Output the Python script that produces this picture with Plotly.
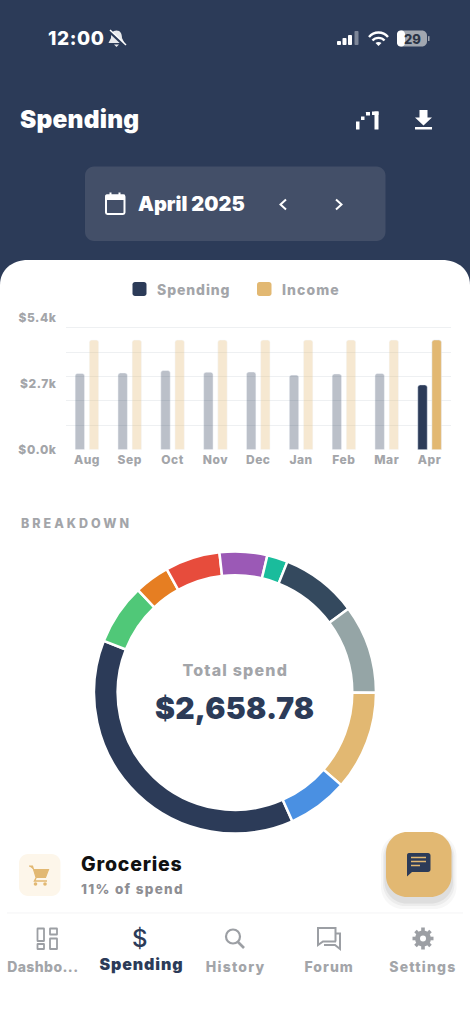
import re
import plotly.graph_objects as go

W, H = 470, 1024

NAVY = '#2c3b58'
GOLD = '#e2b872'
GREY = '#a3a5a9'
FONT = 'Inter'

# Bar chart data (in $k)
months = ['Aug', 'Sep', 'Oct', 'Nov', 'Dec', 'Jan', 'Feb', 'Mar', 'Apr']
spending = [3.13, 3.15, 3.25, 3.18, 3.19, 3.06, 3.11, 3.13, 2.66]
income = [4.5, 4.5, 4.5, 4.5, 4.5, 4.5, 4.5, 4.5, 4.5]
bar_opacity = [0.32, 0.32, 0.32, 0.32, 0.32, 0.32, 0.32, 0.32, 1]
y_ticks = [0, 2.7, 5.4]
y_ticklabels = ['$0.0k', '$2.7k', '$5.4k']
y_grid = [1, 2, 3, 4, 5]

# Breakdown donut data, clockwise from the big navy slice
categories = ['Housing', 'Transport', 'Fuel', 'Dining', 'Shopping', 'Health',
              'Utilities', 'Insurance', 'Groceries', 'Travel']
amounts = [1000.78, 185, 107, 167, 145, 63, 234, 270, 303, 184]
slice_colors = [NAVY, '#50c878', '#e67e22', '#e74c3c', '#9b59b6', '#1abc9c',
                '#34495e', '#95a5a6', GOLD, '#4a90e2']


# px helpers, the page is laid out from screenshot pixels
def fx(x):
    return x / W


def fy(y):
    return 1 - y / H


def conv(d):
    # converts "M x y L x y" in px to paper fractions
    out = []
    nums = 0
    for tok in re.findall(r'[MLCQZ]|-?[\d.]+', d):
        if tok.isalpha():
            out.append(tok)
        else:
            out.append(f'{fx(float(tok)) if nums % 2 == 0 else fy(float(tok)):.5f}')
            nums += 1
    return ' '.join(out)


shapes = []
notes = []
css = ['.xtick text{letter-spacing:.5px}', '.ytick text{letter-spacing:.6px}']


def path(d, fill=None, line=None, lw=0):
    shapes.append(dict(type='path', xref='paper', yref='paper', path=conv(d), layer='below',
                       fillcolor=fill if fill else 'rgba(0,0,0,0)',
                       line=dict(color=line if line else 'rgba(0,0,0,0)', width=lw)))


def rrect(x0, y0, x1, y1, r, fill=None, line=None, lw=0):
    k = r * 0.45
    path(f'M {x0+r} {y0} L {x1-r} {y0} C {x1-k} {y0} {x1} {y0+k} {x1} {y0+r} '
         f'L {x1} {y1-r} C {x1} {y1-k} {x1-k} {y1} {x1-r} {y1} '
         f'L {x0+r} {y1} C {x0+k} {y1} {x0} {y1-k} {x0} {y1-r} '
         f'L {x0} {y0+r} C {x0} {y0+k} {x0+k} {y0} {x0+r} {y0} Z', fill, line, lw)


def circle(cx, cy, r, fill=None, line=None, lw=0):
    shapes.append(dict(type='circle', xref='paper', yref='paper', layer='below',
                       x0=fx(cx-r), x1=fx(cx+r), y0=fy(cy+r), y1=fy(cy-r),
                       fillcolor=fill if fill else 'rgba(0,0,0,0)',
                       line=dict(color=line if line else 'rgba(0,0,0,0)', width=lw)))


def txt(x, y, s, size, color, anchor='left', weight=800, ls=0):
    if ls:
        css.append(f'.annotation[data-index="{len(notes)}"] text{{letter-spacing:{ls}px}}')
    notes.append(dict(x=fx(x), y=fy(y), xref='paper', yref='paper', text=s, showarrow=False,
                      xanchor=anchor, yanchor='middle', align=anchor, borderpad=0,
                      font=dict(family=FONT, size=size, color=color, weight=weight)))


# white card
path(f'M 0 {H} L 0 285 C 0 270 12 260 28 260 L 442 260 C 458 260 470 270 470 285 L 470 {H} Z', 'white')

# status bar
txt(47, 38, '12:00', 19, 'white', ls=0.6)
path('M 116.5 30.5 C 120.5 30.5 122 34 122 38 L 124.5 43 L 108.5 43 L 111 38 C 111 34 112.5 30.5 116.5 30.5 Z', '#e8e9ec')
path('M 114 44.5 L 119 44.5 L 116.5 47 Z', '#e8e9ec')
path('M 109 31 L 125 46', None, NAVY, 3)
path('M 110 30 L 126 45', None, 'white', 1.5)
for x0, y0, c in [(337, 41, 'white'), (342.5, 38, 'white'), (348, 35, 'white'), (354.5, 31, '#7d8698')]:
    rrect(x0, y0, x0 + 4, 45, 0.8, c)
path('M 369 37 C 374 31 383 31 388 37', None, 'white', 2.4)
path('M 372.5 40.5 C 375.5 37 381.5 37 384.5 40.5', None, 'white', 2.4)
path('M 378.5 46 L 375.5 43 C 377 41.5 380 41.5 381.5 43 Z', 'white')
rrect(397, 30.5, 427, 46.5, 5, '#a2a7b0')
rrect(397, 30.5, 405, 46.5, 3.5, 'white')
rrect(428, 36, 429.5, 41, 0.6, '#a2a7b0')
txt(412, 38.5, '29', 13, '#2b3446', 'center')

# header
txt(18.5, 119, 'Spending', 24.5, 'white', weight=900, ls=0.2)
for x0, y0, x1, y1 in [(356, 121.5, 359.5, 129.5), (361, 116.5, 364.5, 120), (366, 112, 370, 115.5),
                       (372, 111.5, 378.5, 115), (374.5, 111.5, 378.5, 129.5)]:
    rrect(x0, y0, x1, y1, 0.3, 'white')
path('M 419.5 110 L 427.5 110 L 427.5 117.5 L 432 117.5 L 423.5 125.5 L 415 117.5 L 419.5 117.5 Z', 'white')
rrect(415, 127, 432, 129.5, 0.2, 'white')

# month picker
rrect(85, 166.5, 385.5, 241, 9, '#434f68')
rrect(106, 195.5, 124.5, 214, 1.5, None, 'white', 2)
rrect(105.5, 194.5, 125, 200, 1, 'white')
rrect(109.5, 192.5, 111.5, 196, 0.3, 'white')
rrect(118.5, 192.5, 120.5, 196, 0.3, 'white')
txt(136.5, 204, 'April 2025', 20, 'white', weight=900)
path('M 286 199.5 L 280.5 204.5 L 286 209.5', None, 'white', 2)
path('M 336 199.5 L 341.5 204.5 L 336 209.5', None, 'white', 2)

# legend
rrect(132.5, 282, 146.5, 296, 2.5, NAVY)
txt(155.5, 289, 'Spending', 14, GREY, ls=0.9)
rrect(257, 282, 271.5, 296, 2.5, GOLD)
txt(280.5, 289, 'Income', 14, GREY, ls=1.1)

txt(19.5, 523, 'BREAKDOWN', 12.5, GREY, ls=3)

# donut centre
txt(235, 670, 'Total spend', 16, GREY, 'center', ls=1.2)
txt(235, 707.5, '$2,658.78', 30, NAVY, 'center', weight=900, ls=0.2)

# groceries row
rrect(19, 854, 60.5, 896, 9, '#fdf6ea')
path('M 29 866 L 32.5 866 L 36 877.5 L 45.5 877.5 L 48.5 869.5 L 33.5 869.5', GOLD, GOLD, 1.2)
path('M 36 878 L 34.5 881 L 47 881', None, GOLD, 1.5)
circle(35.5, 884, 1.8, GOLD)
circle(45, 884, 1.8, GOLD)
txt(79.5, 864, 'Groceries', 19.5, '#111111', ls=0.8)
txt(79.5, 889, '11% of spend', 13.5, '#8e8e93', ls=1.3)

# chat button with a soft shadow
for grow, dy, alpha in [(5, 7, 0.04), (3, 6, 0.06), (1.5, 5, 0.08)]:
    rrect(386 - grow, 832 + dy - grow, 451.5 + grow, 897 + dy + grow, 22, f'rgba(60,60,60,{alpha})')
rrect(386, 832, 451.5, 897, 21, GOLD)
path('M 409 853 L 428 853 C 429.5 853 430.5 854 430.5 855.5 L 430.5 869.5 C 430.5 871 429.5 872 428 872 '
     'L 412 872 L 407 876.5 L 407 855.5 C 407 854 407.5 853 409 853 Z', NAVY)
for y, x1 in [(857.5, 426), (861.5, 426), (865.5, 420)]:
    rrect(411, y - 0.8, x1, y + 0.8, 0.1, GOLD)

# bottom nav
path('M 7 913 L 463 913', None, '#f4f4f5', 1)
ICON = '#9c9fa4'
rrect(37.5, 928.5, 44, 941, 0.3, None, ICON, 1.8)
rrect(50, 928.5, 57, 934.5, 0.3, None, ICON, 1.8)
rrect(37.5, 944, 44, 949, 0.3, None, ICON, 1.8)
rrect(50, 938.5, 57, 949, 0.3, None, ICON, 1.8)
txt(140, 938, '$', 24, NAVY, 'center', weight=500)
circle(233, 936.5, 7, None, ICON, 2.2)
path('M 238 942 L 244 948', None, ICON, 2.6)
path('M 336 941.5 L 323 941.5 L 318 945 L 318 928 L 335.5 928 L 335.5 941.5', None, ICON, 2)
path('M 336 933.5 L 340 933.5 L 340 949 L 335 945 L 324 945', None, ICON, 2)
circle(423, 938.5, 5.5, None, ICON, 5)
for x0, y0, x1, y1 in [(423, 927.5, 423, 949.5), (412.5, 938.5, 433.5, 938.5),
                       (415.5, 931, 430.5, 946), (415.5, 946, 430.5, 931)]:
    path(f'M {x0} {y0} L {x1} {y1}', None, ICON, 3.6)
circle(423, 938.5, 3, 'white')

txt(43, 966, 'Dashbo...', 14, GREY, 'center', ls=0.4)
txt(141, 964, 'Spending', 16, NAVY, 'center', weight=900, ls=0.9)
txt(235, 966, 'History', 14, GREY, 'center', ls=1.2)
txt(329, 966, 'Forum', 14, GREY, 'center', ls=1)
txt(423, 966, 'Settings', 14, GREY, 'center', ls=1.2)

fig = go.Figure()
fig.add_trace(go.Bar(x=months, y=spending, name='Spending',
                     marker=dict(color=NAVY, opacity=bar_opacity, cornerradius=2.5)))
fig.add_trace(go.Bar(x=months, y=income, name='Income',
                     marker=dict(color=GOLD, opacity=bar_opacity, cornerradius=2.5)))
fig.add_trace(go.Pie(labels=categories, values=amounts, sort=False, direction='clockwise',
                     rotation=156, hole=0.832, textinfo='none', showlegend=False,
                     marker=dict(colors=slice_colors, line=dict(color='white', width=2.5)),
                     domain=dict(x=[fx(94), fx(376)], y=[fy(833.5), fy(551.5)])))

fig.update_layout(
    width=W,
    height=H,
    margin=dict(l=0, r=0, t=0, b=0, autoexpand=False),
    paper_bgcolor=NAVY,
    plot_bgcolor='rgba(0,0,0,0)',
    showlegend=False,
    barmode='group',
    bargap=0.34,
    bargroupgap=0.33,
    shapes=shapes,
    annotations=notes,
    font=dict(family=FONT),
    xaxis=dict(domain=[fx(65.5), fx(451)], showgrid=False, zeroline=False, showline=False, ticks='',
               automargin=False, ticklabelstandoff=1,
               tickfont=dict(family=FONT, size=12, color=GREY, weight=800)),
    yaxis=dict(domain=[fy(449.8), fy(318)], range=[0, 5.4], tickvals=y_ticks, ticktext=y_ticklabels,
               showgrid=False, zeroline=False, showline=False, ticks='', ticklabelstandoff=8,
               automargin=False,
               tickfont=dict(family=FONT, size=12, color=GREY, weight=800),
               minor=dict(tickvals=y_grid, showgrid=True, gridcolor='#eef0f2', gridwidth=1, ticks='')),
)

style = ''.join(css)
fig.write_html("out.html", config=dict(displayModeBar=False),
               post_script="document.body.style.margin='0';document.body.style.overflow='hidden';"
                           f"var s=document.createElement('style');s.textContent='{style}';"
                           "document.head.appendChild(s);")
